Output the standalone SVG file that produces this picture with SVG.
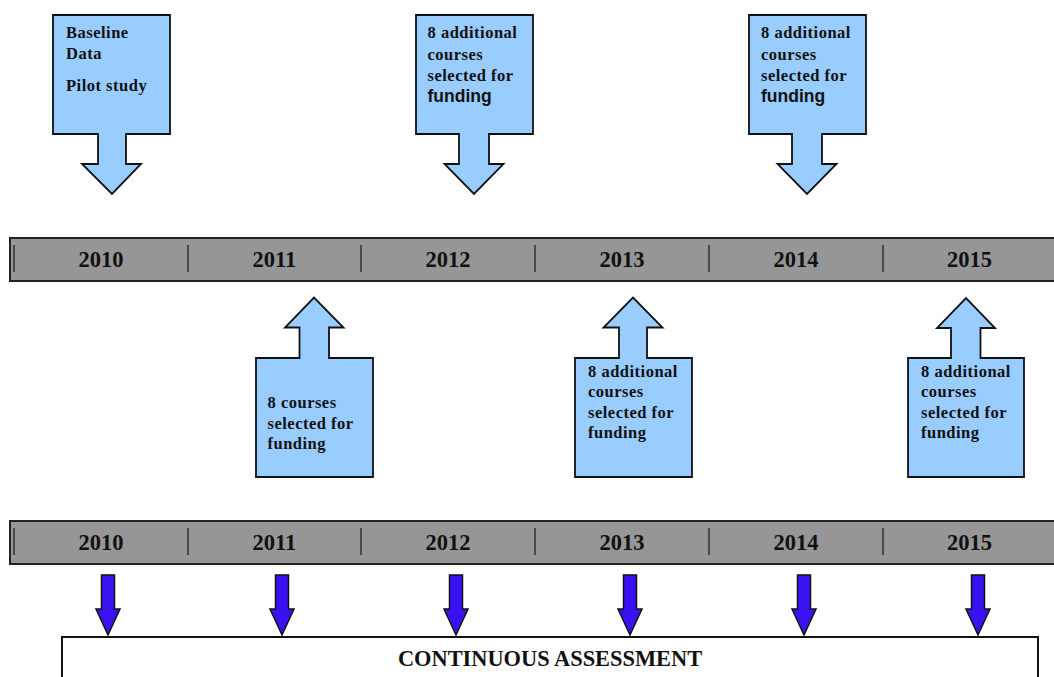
<svg xmlns="http://www.w3.org/2000/svg" width="1054" height="677" viewBox="0 0 1054 677">
<style>
.note{fill:#99ccff;stroke:#111;stroke-width:1.8;stroke-linejoin:miter}
.bar{fill:#969696;stroke:#222;stroke-width:2}
.div{stroke:#222;stroke-width:1.3}
.yr{font-family:"Liberation Serif","Times New Roman",serif;font-weight:bold;font-size:22.5px;fill:#111;text-anchor:middle}
.t{font-family:"Liberation Serif","Times New Roman",serif;font-weight:bold;font-size:16.5px;letter-spacing:0.5px;fill:#111}
.fs{font-family:"Liberation Sans",Arial,sans-serif;font-weight:bold;font-size:17.5px;fill:#111}
.blue{fill:#3a12f2;stroke:#111;stroke-width:1.5}
.ca{font-family:"Liberation Serif","Times New Roman",serif;font-weight:bold;font-size:22.4px;fill:#111;text-anchor:middle}
</style>
<rect width="1054" height="677" fill="#ffffff"/>

<g id="timeline-top">
<rect class="bar" x="10" y="238" width="1060" height="43"/>
<line class="div" x1="14" y1="245" x2="14" y2="272"/>
<line class="div" x1="188" y1="245" x2="188" y2="272"/>
<line class="div" x1="361" y1="245" x2="361" y2="272"/>
<line class="div" x1="535" y1="245" x2="535" y2="272"/>
<line class="div" x1="709" y1="245" x2="709" y2="272"/>
<line class="div" x1="883" y1="245" x2="883" y2="272"/>
<text class="yr" x="101" y="266.5">2010</text>
<text class="yr" x="274.5" y="266.5">2011</text>
<text class="yr" x="448" y="266.5">2012</text>
<text class="yr" x="622" y="266.5">2013</text>
<text class="yr" x="796" y="266.5">2014</text>
<text class="yr" x="969.5" y="266.5">2015</text>
</g>

<g id="timeline-bottom">
<rect class="bar" x="10" y="521" width="1060" height="43"/>
<line class="div" x1="14" y1="528" x2="14" y2="555"/>
<line class="div" x1="188" y1="528" x2="188" y2="555"/>
<line class="div" x1="361" y1="528" x2="361" y2="555"/>
<line class="div" x1="535" y1="528" x2="535" y2="555"/>
<line class="div" x1="709" y1="528" x2="709" y2="555"/>
<line class="div" x1="883" y1="528" x2="883" y2="555"/>
<text class="yr" x="101" y="550">2010</text>
<text class="yr" x="274.5" y="550">2011</text>
<text class="yr" x="448" y="550">2012</text>
<text class="yr" x="622" y="550">2013</text>
<text class="yr" x="796" y="550">2014</text>
<text class="yr" x="969.5" y="550">2015</text>
</g>

<g id="note-2010">
<path class="note" d="M53,15 H170 V134 H126 V164 H141 L112,194 L82,164 H98 V134 H53 Z"/>
<text class="t" x="66" y="38">Baseline</text>
<text class="t" x="66" y="59">Data</text>
<text class="t" x="66" y="90.5">Pilot study</text>
</g>

<g id="note-2012">
<path class="note" d="M416,15 H533 V134 H489 V164 H503.5 L474,194 L444.5,164 H459 V134 H416 Z"/>
<text class="t" x="427.5" y="38">8 additional</text>
<text class="t" x="427.5" y="59.5">courses</text>
<text class="t" x="427.5" y="81">selected for</text>
<text class="fs" x="427.5" y="101.5">funding</text>
</g>

<g id="note-2014">
<path class="note" d="M749,15 H866 V134 H822 V164 H836.5 L807,194 L777.5,164 H792 V134 H749 Z"/>
<text class="t" x="761" y="38">8 additional</text>
<text class="t" x="761" y="59.5">courses</text>
<text class="t" x="761" y="81">selected for</text>
<text class="fs" x="761" y="101.5">funding</text>
</g>

<g id="note-2011">
<path class="note" d="M256,477 V358 H299.5 V327.5 H285 L314,297.5 L343.5,327.5 H329 V358 H373 V477 Z"/>
<text class="t" x="267.5" y="408">8 courses</text>
<text class="t" x="267.5" y="429">selected for</text>
<text class="t" x="267.5" y="449">funding</text>
</g>

<g id="note-2013">
<path class="note" d="M575,477 V358 H619 V327.5 H603.5 L633,297.5 L662.5,327.5 H647 V358 H692 V477 Z"/>
<text class="t" x="588" y="377">8 additional</text>
<text class="t" x="588" y="397">courses</text>
<text class="t" x="588" y="417.5">selected for</text>
<text class="t" x="588" y="438">funding</text>
</g>

<g id="note-2015">
<path class="note" d="M908,477 V358 H951 V328 H937 L966,298 L995,328 H980.5 V358 H1024 V477 Z"/>
<text class="t" x="921" y="377">8 additional</text>
<text class="t" x="921" y="397">courses</text>
<text class="t" x="921" y="417.5">selected for</text>
<text class="t" x="921" y="438">funding</text>
</g>

<g id="connectors">
<path class="blue" d="M101.5,575 H114.5 V609 H120 L108,635 L96,609 H101.5 Z"/>
<path class="blue" d="M275.5,575 H288.5 V609 H294 L282,635 L270,609 H275.5 Z"/>
<path class="blue" d="M449.5,575 H462.5 V609 H468 L456,635 L444,609 H449.5 Z"/>
<path class="blue" d="M623.5,575 H636.5 V609 H642 L630,635 L618,609 H623.5 Z"/>
<path class="blue" d="M797.5,575 H810.5 V609 H816 L804,635 L792,609 H797.5 Z"/>
<path class="blue" d="M971.5,575 H984.5 V609 H990 L978,635 L966,609 H971.5 Z"/>
</g>

<g id="continuous-assessment">
<rect x="62" y="637" width="976" height="60" fill="#ffffff" stroke="#111" stroke-width="2"/>
<text class="ca" x="550" y="666">CONTINUOUS ASSESSMENT</text>
</g>
</svg>
